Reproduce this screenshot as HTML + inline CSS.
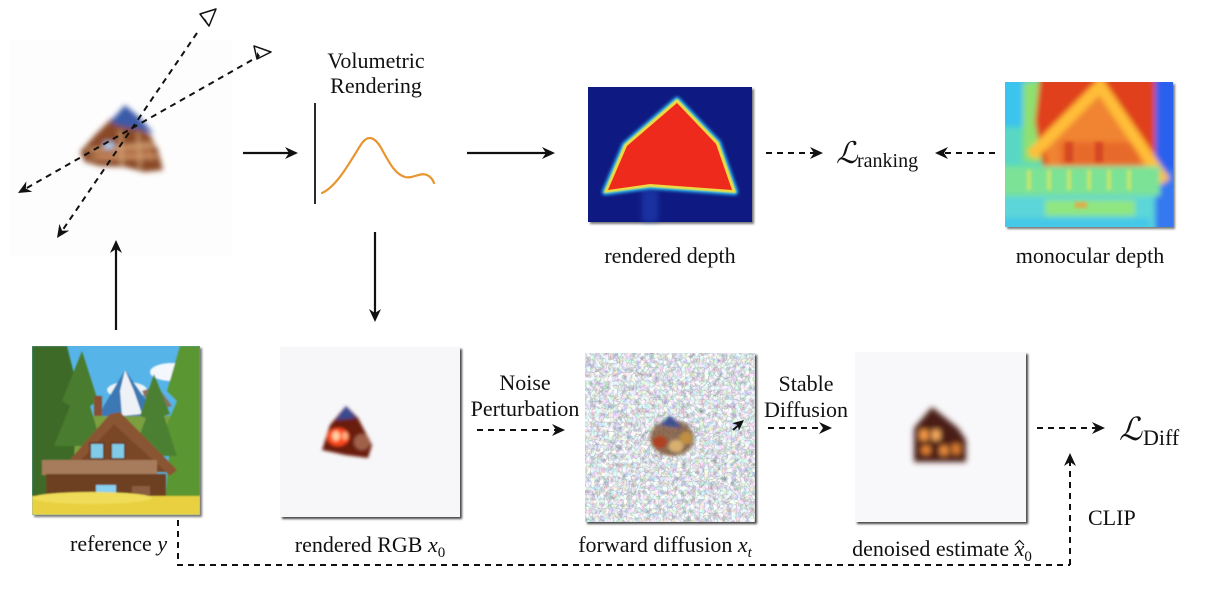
<!DOCTYPE html>
<html><head><meta charset="utf-8"><style>
html,body{margin:0;padding:0;background:#fff;}
svg{display:block;}
text{font-family:"Liberation Serif","DejaVu Serif",serif;fill:#111;}
</style></head><body>
<svg width="1207" height="596" viewBox="0 0 1207 596" xmlns="http://www.w3.org/2000/svg">
<defs>
  <filter id="b1" x="-20%" y="-20%" width="140%" height="140%"><feGaussianBlur stdDeviation="1.6"/></filter>
  <filter id="b2" x="-30%" y="-30%" width="160%" height="160%"><feGaussianBlur stdDeviation="2.6"/></filter>
  <filter id="b3" x="-30%" y="-30%" width="160%" height="160%"><feGaussianBlur stdDeviation="3"/></filter>
  <filter id="b07"><feGaussianBlur stdDeviation="0.7"/></filter>
  <filter id="sh" x="-10%" y="-10%" width="130%" height="130%"><feGaussianBlur stdDeviation="1"/></filter>
  <filter id="noise" x="0" y="0" width="100%" height="100%">
    <feTurbulence type="fractalNoise" baseFrequency="0.22" numOctaves="2" seed="7" result="t"/>
    <feColorMatrix in="t" type="matrix" values="1.1 0.35 0.35 0 -0.12  0.35 1.1 0.35 0 -0.08  0.35 0.35 1.1 0 -0.04  0 0 0 0 1"/>
  </filter>
  <filter id="noise2" x="0" y="0" width="100%" height="100%">
    <feTurbulence type="turbulence" baseFrequency="0.22" numOctaves="1" seed="3" result="t"/>
    <feColorMatrix in="t" type="matrix" values="0 0 0 0 0.25  0 0 0 0 0.25  0 0 0 0 0.28  -4 0 0 0 0.45"/>
  </filter>
  <linearGradient id="axis" x1="0" x2="1" y1="0" y2="0">
    <stop offset="0" stop-color="#222"/><stop offset="0.3" stop-color="#000"/><stop offset="1" stop-color="#222"/>
  </linearGradient>
</defs>

<!-- ============ TOP LEFT: scene with cameras ============ -->
<rect x="10" y="40" width="222" height="216" fill="#fdfdfd"/>
<g filter="url(#b2)">
  <polygon points="80,152 95,135 112,118 130,122 150,135 158,150 163,170 145,172 125,167 100,166 85,162" fill="#8a4a28"/>
  <polygon points="92,150 150,140 156,160 100,160" fill="#b07048"/>
  <line x1="88" y1="150" x2="155" y2="145" stroke="#e0b080" stroke-width="2"/>
  <line x1="90" y1="158" x2="158" y2="156" stroke="#d8a070" stroke-width="2"/>
  <line x1="120" y1="130" x2="122" y2="166" stroke="#e0b080" stroke-width="2"/>
  <line x1="138" y1="132" x2="140" y2="168" stroke="#d8a878" stroke-width="2"/>
  <polygon points="110,122 125,105 140,118 154,134 138,129 120,126" fill="#3a5aa8"/>
  <rect x="104" y="142" width="10" height="7" fill="#a8c8e8"/>
</g>
<!-- camera rays -->
<line x1="197" y1="33" x2="62" y2="231" stroke="#111" stroke-width="2" stroke-dasharray="6,5"/>
<line x1="252" y1="60" x2="25" y2="189" stroke="#111" stroke-width="2" stroke-dasharray="6,5"/>
<path d="M0,0 L-13,-6 L-9,0 L-13,6 Z" fill="#111" transform="translate(57,238) rotate(124.3)"/>
<path d="M0,0 L-13,-6 L-9,0 L-13,6 Z" fill="#111" transform="translate(18,193) rotate(150.4)"/>
<!-- camera triangles -->
<polygon points="200,14 216,9 209,26" fill="#fff" stroke="#111" stroke-width="1.5" stroke-linejoin="round"/>
<polygon points="204,18 209,26 206,20" fill="#111"/>
<polygon points="254,46 271,52 257,59" fill="#fff" stroke="#111" stroke-width="1.5" stroke-linejoin="round"/>
<polygon points="257,52 257,59 260,56" fill="#111"/>

<!-- arrow right to volumetric -->
<line x1="243" y1="153" x2="290" y2="153" stroke="#111" stroke-width="2.2"/>
<path d="M0,0 L-13,-6 L-9,0 L-13,6 Z" fill="#111" transform="translate(298,153)"/>

<!-- Volumetric rendering -->
<text x="376" y="68" font-size="22" text-anchor="middle">Volumetric</text>
<text x="376" y="93" font-size="22" text-anchor="middle">Rendering</text>
<line x1="315" y1="103" x2="315" y2="204" stroke="#111" stroke-width="1.8"/>
<line x1="316" y1="203.5" x2="437" y2="203.5" stroke="url(#axis)" stroke-width="2.4"/>
<path d="M322,193 C338,186 352,158 362,143 C368,135 374,137 380,146 C388,160 394,174 405,177 C413,179 420,172 427,175 C431,177 433,180 434,183" fill="none" stroke="#e8952f" stroke-width="2.2" stroke-linecap="round"/>

<!-- arrow down -->
<line x1="375" y1="232" x2="375" y2="314" stroke="#111" stroke-width="2.2"/>
<path d="M0,0 L-13,-6 L-9,0 L-13,6 Z" fill="#111" transform="translate(375,322) rotate(90)"/>

<!-- arrow to rendered depth -->
<line x1="467" y1="153" x2="547" y2="153" stroke="#111" stroke-width="2.2"/>
<path d="M0,0 L-13,-6 L-9,0 L-13,6 Z" fill="#111" transform="translate(555,153)"/>

<!-- rendered depth image -->
<rect x="590" y="89" width="164" height="135" fill="#777" filter="url(#sh)"/>
<rect x="588" y="87" width="164" height="135" fill="#0e1a82"/>
<g>
  <rect x="642" y="190" width="16" height="32" fill="#2a50c8" opacity="0.45" filter="url(#b2)"/>
  <polygon points="677,100 625,145 605,192 650,186 735,192 718,143" fill="none" stroke="#30c8ff" stroke-width="6" stroke-linejoin="round" filter="url(#b1)"/>
  <polygon points="677,100 625,145 605,192 650,186 735,192 718,143" fill="#f0d040" stroke="#f0e040" stroke-width="2" stroke-linejoin="round" filter="url(#b07)"/>
  <polygon points="677,103 627,146 608,190 650,184 732,190 716,144" fill="#ee2a1c"/>
</g>

<!-- L ranking -->
<line x1="766" y1="153" x2="815" y2="153" stroke="#111" stroke-width="2" stroke-dasharray="6,5"/>
<path d="M0,0 L-13,-6 L-9,0 L-13,6 Z" fill="#111" transform="translate(823,153)"/>
<text x="836" y="163" font-size="30" font-style="italic">ℒ</text>
<text x="857" y="167" font-size="20">ranking</text>
<line x1="995" y1="153" x2="943" y2="153" stroke="#111" stroke-width="2" stroke-dasharray="6,5"/>
<path d="M0,0 L-13,-6 L-9,0 L-13,6 Z" fill="#111" transform="translate(935,153) rotate(180)"/>

<!-- monocular depth image -->
<rect x="1007" y="84" width="168" height="145" fill="#777" filter="url(#sh)"/>
<svg x="1005" y="82" width="168" height="145" viewBox="0 0 168 145">
  <rect width="168" height="145" fill="#58d8c4"/>
  <g filter="url(#b2)">
    <rect x="-5" y="-5" width="30" height="50" fill="#3ac4ee"/>
    <rect x="18" y="0" width="22" height="80" fill="#8ee070"/>
    <polygon points="35,-5 152,-5 152,75 130,95 40,95 30,40" fill="#e0401a"/>
    <rect x="150" y="-5" width="25" height="155" fill="#2a60ee"/>
    <polygon points="140,95 175,85 175,150 140,150" fill="#3478f0"/>
    <polygon points="40,66 95,12 150,92 140,100 45,100" fill="#f08432"/>
    <rect x="55" y="60" width="80" height="36" fill="#e86a2a"/>
    <polyline points="26,74 95,4 160,100" fill="none" stroke="#ffbe38" stroke-width="12" stroke-linejoin="miter"/>
    <rect x="-5" y="84" width="160" height="30" fill="#7ce296"/>
    <rect x="-5" y="114" width="155" height="36" fill="#5cd6d8"/>
    <rect x="40" y="118" width="90" height="16" fill="#90e680"/>
    <rect x="-5" y="136" width="150" height="12" fill="#44c8e8"/>
  </g>
  <g filter="url(#b1)" opacity="0.8">
    <rect x="22" y="88" width="4" height="20" fill="#e0e860"/>
    <rect x="42" y="88" width="4" height="20" fill="#e0e860"/>
    <rect x="62" y="88" width="4" height="20" fill="#e0e860"/>
    <rect x="82" y="88" width="4" height="20" fill="#e0e860"/>
    <rect x="102" y="88" width="4" height="20" fill="#e0e860"/>
    <rect x="122" y="88" width="4" height="20" fill="#e0e860"/>
    <rect x="70" y="120" width="12" height="6" fill="#f0a040"/>
    <rect x="60" y="60" width="8" height="20" fill="#d04020"/>
    <rect x="90" y="60" width="8" height="20" fill="#d04020"/>
  </g>
</svg>

<text x="670" y="263" font-size="22" text-anchor="middle">rendered depth</text>
<text x="1090" y="263" font-size="22" text-anchor="middle">monocular depth</text>

<!-- arrow up from reference -->
<line x1="116" y1="330" x2="116" y2="248" stroke="#111" stroke-width="2.2"/>
<path d="M0,0 L-13,-6 L-9,0 L-13,6 Z" fill="#111" transform="translate(116,240) rotate(-90)"/>

<!-- reference image -->
<rect x="34" y="348" width="168" height="169" fill="#777" filter="url(#sh)"/>
<svg x="32" y="346" width="168" height="169" viewBox="0 0 168 169">
  <rect width="168" height="169" fill="#56b4e8"/>
  <g filter="url(#b07)">
    <ellipse cx="140" cy="26" rx="22" ry="9" fill="#f4f8fc"/>
    <ellipse cx="95" cy="44" rx="20" ry="8" fill="#eef4f8"/>
    <polygon points="60,80 93,24 125,70 140,80" fill="#3a78b4"/>
    <polygon points="93,24 102,45 110,68 90,70 88,45" fill="#eef2f6"/>
    <polygon points="110,45 125,40 140,60 120,65" fill="#8a7060"/>
    <rect x="40" y="70" width="110" height="40" fill="#7aa040"/>
    <polygon points="0,0 35,0 45,40 40,169 0,169" fill="#3d6a28"/>
    <polygon points="50,5 30,55 38,60 22,100 70,100 58,60 66,55" fill="#4a7c2e"/>
    <polygon points="148,0 168,0 168,169 132,169 138,100 128,95 145,55 135,45" fill="#5a9630"/>
    <polygon points="122,28 108,70 114,72 100,110 145,110 132,70 138,68" fill="#4c8030"/>
    <polygon points="22,132 78,68 88,66 145,124 138,130 82,78 32,136" fill="#8a5532"/>
    <polygon points="38,126 82,78 134,126" fill="#7a4626"/>
    <rect x="62" y="50" width="8" height="20" fill="#8a5030"/>
    <rect x="57" y="96" width="16" height="18" fill="#6a3c20"/>
    <rect x="59" y="98" width="12" height="14" fill="#80cbe8"/>
    <rect x="78" y="96" width="16" height="18" fill="#6a3c20"/>
    <rect x="80" y="98" width="12" height="14" fill="#80cbe8"/>
    <rect x="10" y="114" width="115" height="15" fill="#a67c5c"/>
    <rect x="14" y="128" width="120" height="30" fill="#6e4024"/>
    <rect x="64" y="139" width="20" height="20" fill="#8ad0f0"/>
    <rect x="100" y="140" width="18" height="16" fill="#8a5c40"/>
    <rect x="0" y="150" width="168" height="19" fill="#e8d040"/>
    <ellipse cx="60" cy="152" rx="60" ry="6" fill="#f0dc58"/>
  </g>
</svg>
<text x="70" y="551" font-size="22">reference <tspan font-style="italic">y</tspan></text>

<!-- rendered RGB -->
<rect x="282" y="349" width="180" height="170" fill="#444" filter="url(#sh)"/>
<rect x="280" y="347" width="180" height="170" fill="#f7f7f9"/>
<g filter="url(#b1)">
  <polygon points="330,425 346,406 358,418 372,445 368,458 345,455 322,450" fill="#6a1c10"/>
  <polygon points="336,420 346,406 356,418" fill="#3a4a90"/>
  <ellipse cx="338" cy="437" rx="11" ry="9" fill="#ff4a1c"/>
  <ellipse cx="336" cy="436" rx="4" ry="5" fill="#ffd0a0"/>
  <ellipse cx="345" cy="436" rx="3" ry="4" fill="#ffb080"/>
  <ellipse cx="362" cy="442" rx="8" ry="8" fill="#a06048"/>
</g>
<text x="370" y="552" font-size="22" text-anchor="middle">rendered RGB <tspan font-style="italic">x</tspan><tspan font-size="15" dy="5">0</tspan></text>

<!-- Noise Perturbation -->
<text x="525" y="390" font-size="22" text-anchor="middle">Noise</text>
<text x="525" y="416" font-size="22" text-anchor="middle">Perturbation</text>
<line x1="477" y1="430" x2="557" y2="430" stroke="#111" stroke-width="2" stroke-dasharray="6,5"/>
<path d="M0,0 L-13,-6 L-9,0 L-13,6 Z" fill="#111" transform="translate(565,430)"/>

<!-- forward diffusion -->
<rect x="587" y="355" width="170" height="169" fill="#444" filter="url(#sh)"/>
<rect x="585" y="353" width="170" height="169" fill="#dfe6e6"/>
<rect x="585" y="353" width="170" height="169" filter="url(#noise)"/>
<rect x="585" y="353" width="170" height="169" filter="url(#noise2)"/>
<g filter="url(#b1)">
  <ellipse cx="672" cy="438" rx="22" ry="18" fill="#7a5030" opacity="0.8"/>
  <polygon points="660,425 670,415 682,428" fill="#3a5090"/>
  <ellipse cx="660" cy="442" rx="7" ry="6" fill="#b04020"/>
  <ellipse cx="676" cy="446" rx="7" ry="6" fill="#d8b070"/>
  <ellipse cx="686" cy="438" rx="6" ry="6" fill="#c09040"/>
</g>
<path d="M0,0 L-11,-5 L-8,0 L-11,5 Z" fill="#111" transform="translate(744,420) rotate(-40)"/>
<line x1="733" y1="430" x2="740" y2="424" stroke="#111" stroke-width="2"/>
<text x="665" y="552" font-size="22" text-anchor="middle">forward diffusion <tspan font-style="italic">x</tspan><tspan font-size="15" font-style="italic" dy="5">t</tspan></text>

<!-- Stable Diffusion -->
<text x="806" y="391" font-size="22" text-anchor="middle">Stable</text>
<text x="806" y="417" font-size="22" text-anchor="middle">Diffusion</text>
<line x1="768" y1="428" x2="824" y2="428" stroke="#111" stroke-width="2" stroke-dasharray="6,5"/>
<path d="M0,0 L-13,-6 L-9,0 L-13,6 Z" fill="#111" transform="translate(832,428)"/>

<!-- denoised -->
<rect x="857" y="354" width="171" height="170" fill="#444" filter="url(#sh)"/>
<rect x="855" y="352" width="171" height="170" fill="#f8f8fa"/>
<g filter="url(#b3)">
  <polygon points="914,428 932,407 958,428 966,440 966,462 914,462" fill="#4a1c12"/>
  <rect x="920" y="430" width="8" height="10" fill="#ffa048"/>
  <rect x="932" y="430" width="8" height="10" fill="#ffb060"/>
  <rect x="922" y="446" width="8" height="8" fill="#f08838"/>
  <rect x="940" y="446" width="8" height="9" fill="#f09040"/>
  <rect x="952" y="444" width="8" height="10" fill="#e08030"/>
</g>
<text x="942" y="556" font-size="22" text-anchor="middle">denoised estimate <tspan font-style="italic">x</tspan><tspan font-size="15" dy="5">0</tspan></text>
<path d="M1015,545 L1019.5,540.5 L1024,545" fill="none" stroke="#111" stroke-width="1.2"/>

<!-- L Diff -->
<line x1="1037" y1="428" x2="1097" y2="428" stroke="#111" stroke-width="2" stroke-dasharray="6,5"/>
<path d="M0,0 L-13,-6 L-9,0 L-13,6 Z" fill="#111" transform="translate(1105,428)"/>
<text x="1119" y="440" font-size="32" font-style="italic">ℒ</text>
<text x="1143" y="445" font-size="22">Diff</text>

<!-- CLIP -->
<text x="1088" y="525" font-size="22">CLIP</text>
<line x1="1070" y1="565" x2="1070" y2="461" stroke="#111" stroke-width="2" stroke-dasharray="6,5"/>
<path d="M0,0 L-13,-6 L-9,0 L-13,6 Z" fill="#111" transform="translate(1070,453) rotate(-90)"/>

<!-- reference dashed -->
<polyline points="178,520 178,565 1070,565" fill="none" stroke="#111" stroke-width="2" stroke-dasharray="6,5"/>
</svg>
</body></html>
